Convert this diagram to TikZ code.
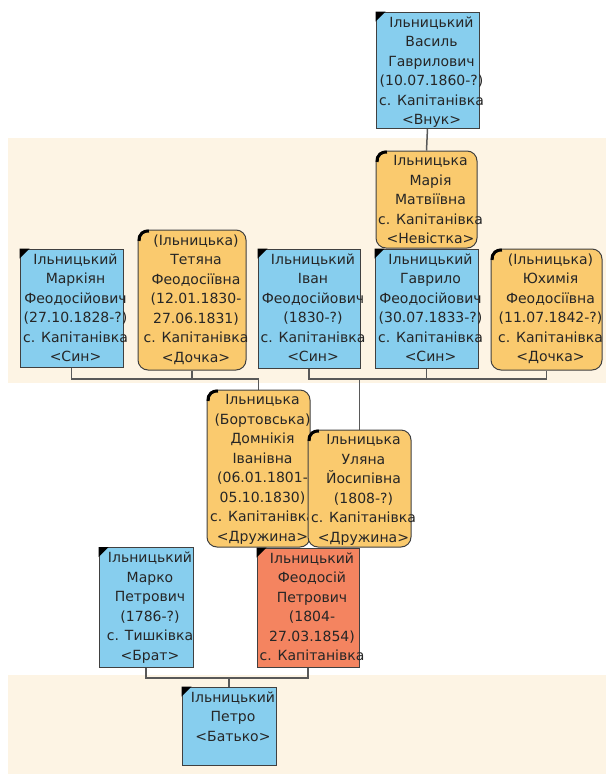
\documentclass[tikz,border=0pt]{standalone}
\usepackage{fontspec}
\setmainfont{DejaVu Sans}

\definecolor{sonblue}{RGB}{135,206,238}
\definecolor{wifeorange}{RGB}{250,202,110}
\definecolor{headred}{RGB}{244,132,96}
\definecolor{genbeige}{RGB}{253,244,228}
\definecolor{edgegray}{RGB}{64,64,64}

\pgfdeclarelayer{bands}
\pgfdeclarelayer{lines}
\pgfsetlayers{bands,lines,main}

\begin{document}
\begin{tikzpicture}[
        x=1pt, y=-1pt,
        man/.style={rectangle, draw=edgegray, fill=sonblue, line width=1pt, inner sep=0pt},
        woman/.style={rectangle, draw=edgegray, fill=wifeorange, line width=1pt, rounded corners=10pt, inner sep=0pt},
        head/.style={man, fill=headred},
        boxsize/.style 2 args={minimum width=#1pt, minimum height=#2pt},
        txt/.style={anchor=north, align=center, inner sep=0pt, xshift=4pt, yshift=-5pt, text=black!85, font=\fontsize{14}{19.5}\selectfont},
        link/.style={draw=black!65, line width=1.5pt}
    ]
        \useasboundingbox (0,0) rectangle (606,774);

        % Generation bands
        \begin{pgfonlayer}{bands}
            \fill[genbeige] (8,138) rectangle (606,383);
            \fill[genbeige] (8,675) rectangle (606,774);
        \end{pgfonlayer}

        \coordinate (kidsbar) at (0,379);
        \coordinate (sonsbar) at (0,678);

        % People (boxes first, then their lines of text)
        \node (markiyan) at (71.5, 308) [man, boxsize={103}{118}] {};
        \node (markiyan-t) at (markiyan.north) [txt] {Ільницький\\Маркіян\\Феодосійович\\(27.10.1828-?)\\с. Капітанівка\\<Син>};
        \node (tetyana) at (192, 300) [woman, boxsize={108}{140}] {};
        \node (tetyana-t) at (tetyana.north) [txt] {(Ільницька)\\Тетяна\\Феодосіївна\\(12.01.1830-\\27.06.1831)\\с. Капітанівка\\<Дочка>};
        \node (ivan) at (309, 308.5) [man, boxsize={102}{119}] {};
        \node (ivan-t) at (ivan.north) [txt] {Ільницький\\Іван\\Феодосійович\\(1830-?)\\с. Капітанівка\\<Син>};
        \node (havrylo) at (426.5, 308.5) [man, boxsize={103}{119}] {};
        \node (havrylo-t) at (havrylo.north) [txt] {Ільницький\\Гаврило\\Феодосійович\\(30.07.1833-?)\\с. Капітанівка\\<Син>};
        \node (yukhymiya) at (546.5, 309.5) [woman, boxsize={111}{121}] {};
        \node (yukhymiya-t) at (yukhymiya.north) [txt] {(Ільницька)\\Юхимія\\Феодосіївна\\(11.07.1842-?)\\с. Капітанівка\\<Дочка>};
        \node (mariya) at (426.5, 199.5) [woman, boxsize={101}{97}] {};
        \node (mariya-t) at (mariya.north) [txt] {Ільницька\\Марія\\Матвіївна\\с. Капітанівка\\<Невістка>};
        \node (vasyl) at (427.5, 70) [man, boxsize={103}{116}] {};
        \node (vasyl-t) at (vasyl.north) [txt] {Ільницький\\Василь\\Гаврилович\\(10.07.1860-?)\\с. Капітанівка\\<Внук>};

        \node (domnikiya) at (258.5, 468.5) [woman, boxsize={103}{157}] {};
        \node (domnikiya-t) at (domnikiya.north) [txt] {Ільницька\\(Бортовська)\\Домнікія\\Іванівна\\(06.01.1801-\\05.10.1830)\\с. Капітанівка\\<Дружина>};
        \node (ulyana) at (359.5, 488.5) [woman, boxsize={103}{117}] {};
        \node (ulyana-t) at (ulyana.north) [txt] {Ільницька\\Уляна\\Йосипівна\\(1808-?)\\с. Капітанівка\\<Дружина>};
        \node (marko) at (146, 607.5) [man, boxsize={94}{120}] {};
        \node (marko-t) at (marko.north) [txt] {Ільницький\\Марко\\Петрович\\(1786-?)\\с. Тишківка\\<Брат>};
        \node (feodosiy) at (308, 607.5) [head, boxsize={102}{119}] {};
        \node (feodosiy-t) at (feodosiy.north) [txt] {Ільницький\\Феодосій\\Петрович\\(1804-\\27.03.1854)\\с. Капітанівка};
        \node (petro) at (229, 726) [man, boxsize={94}{78}] {};
        \node (petro-t) at (petro.north) [txt] {Ільницький\\Петро\\<Батько>};

        % Corner marks
        \foreach \p in {vasyl, markiyan, ivan, havrylo, marko, feodosiy, petro}
            \fill[black] (\p.north west) -- ++(10,0) -- ++(-10,10) -- cycle;
        \foreach \p in {mariya, tetyana, yukhymiya, domnikiya, ulyana}
            \draw[black, line width=3pt] ([shift={(10,10)}]\p.north west) ++(170:8.5) arc (170:280:8.5);

        % Lines
        \begin{pgfonlayer}{lines}
            \draw[link] (vasyl.south) -- (mariya.north);
            \draw[link] (markiyan.south) |- (domnikiya.north |- kidsbar) -- (domnikiya.north);
            \draw[link] (tetyana.south) -- (tetyana.south |- kidsbar);
            \draw[link] (ivan.south) |- (yukhymiya.south |- kidsbar) -- (yukhymiya.south);
            \draw[link] (havrylo.south) -- (havrylo.south |- kidsbar);
            \draw[link] (ulyana.north) -- (ulyana.north |- kidsbar);
            \draw[link] (marko.south) |- (feodosiy.south |- sonsbar) -- (feodosiy.south);
            \draw[link] (petro.north) -- (petro.north |- sonsbar);
        \end{pgfonlayer}

    \end{tikzpicture}
\end{document}
